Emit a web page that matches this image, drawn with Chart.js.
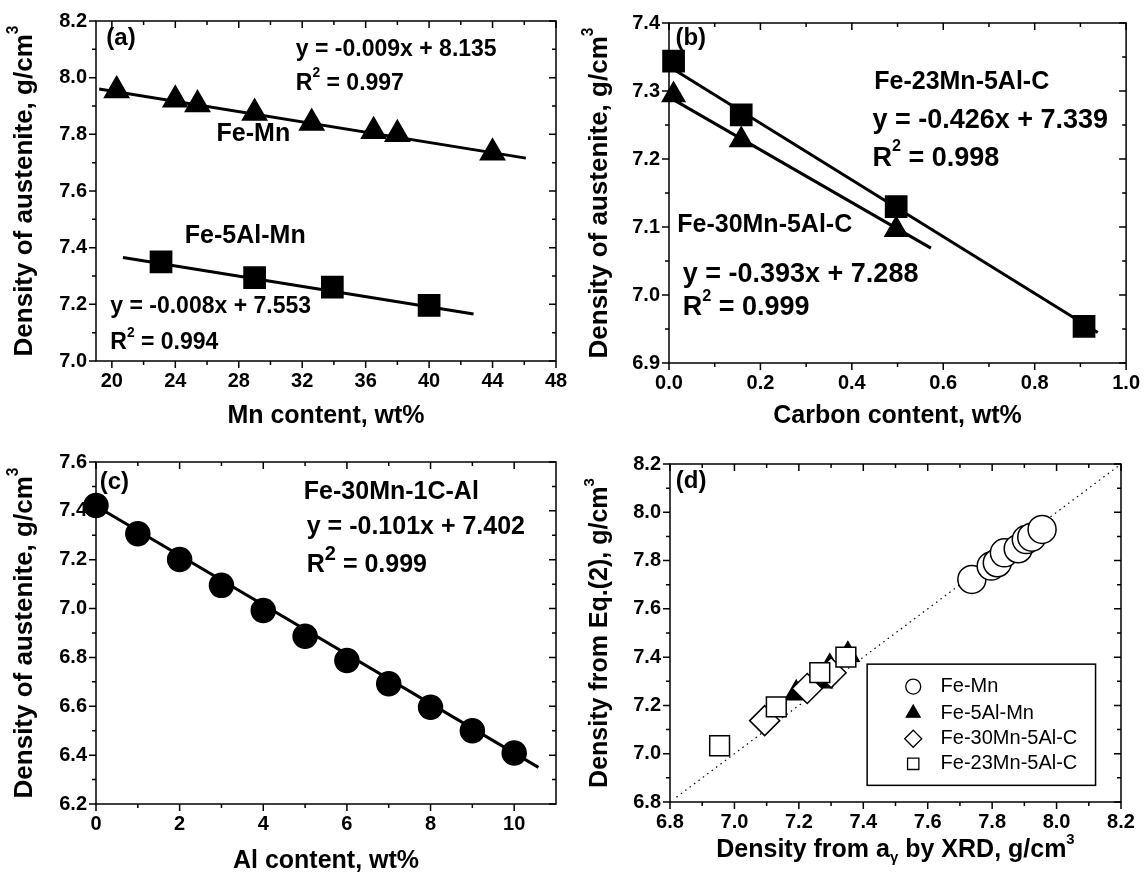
<!DOCTYPE html>
<html>
<head>
<meta charset="utf-8">
<script src="https://cdn.jsdelivr.net/npm/chart.js@4.4.1/dist/chart.umd.min.js"></script>
<style>
    body { margin: 0; background: #fff; width: 1148px; height: 874px; position: relative; overflow: hidden; }
    canvas { position: absolute; left: 0; top: 0; }
</style>
</head>
<body>
<canvas id="chartA" width="1148" height="874"></canvas>
<canvas id="chartB" width="1148" height="874"></canvas>
<canvas id="chartC" width="1148" height="874"></canvas>
<canvas id="chartD" width="1148" height="874"></canvas>
<script>
const FONT = '"Liberation Sans", Arial, Helvetica, sans-serif';

// (a) density vs Mn content
const mnFeMn = [20.3, 24.0, 25.4, 29.0, 32.6, 36.5, 38.0, 44.0];
const densFeMn = [7.955, 7.922, 7.905, 7.875, 7.840, 7.811, 7.800, 7.735];
const mnFe5Al = [23.1, 29.0, 33.9, 40.0];
const densFe5Al = [7.350, 7.294, 7.261, 7.196];
const fitFeMnX = [19.2, 46.1];
const fitFeMnY = [7.960, 7.716];
const fitFe5AlX = [20.7, 42.8];
const fitFe5AlY = [7.365, 7.166];
const aXTicks = [20, 24, 28, 32, 36, 40, 44, 48];
const aYTicks = [7.0, 7.2, 7.4, 7.6, 7.8, 8.0, 8.2];

// (b) density vs carbon content
const cFe23 = [0.01, 0.158, 0.497, 0.908];
const densFe23 = [7.344, 7.265, 7.130, 6.954];
const cFe30 = [0.01, 0.158, 0.497];
const densFe30 = [7.294, 7.228, 7.096];
const fitFe23X = [0, 0.938];
const fitFe23Y = [7.336, 6.945];
const fitFe30X = [0, 0.573];
const fitFe30Y = [7.291, 7.069];
const bXTicks = [0, 0.2, 0.4, 0.6, 0.8, 1.0];
const bYTicks = [6.9, 7.0, 7.1, 7.2, 7.3, 7.4];

// (c) density vs Al content
const alContent = [0, 1, 2, 3, 4, 5, 6, 7, 8, 9, 10];
const densAl = [7.422, 7.306, 7.201, 7.095, 6.992, 6.887, 6.787, 6.692, 6.596, 6.500, 6.409];
const fitAlX = [0, 10.58];
const fitAlY = [7.420, 6.350];
const cXTicks = [0, 2, 4, 6, 8, 10];
const cYTicks = [6.2, 6.4, 6.6, 6.8, 7.0, 7.2, 7.4, 7.6];

// (d) Eq.(2) vs XRD
const xrdFeMn = [7.737, 7.797, 7.816, 7.838, 7.881, 7.906, 7.923, 7.955];
const eqFeMn = [7.722, 7.777, 7.791, 7.832, 7.849, 7.887, 7.897, 7.929];
const xrdFe5Al = [7.192, 7.268, 7.296, 7.352];
const eqFe5Al = [7.250, 7.300, 7.360, 7.410];
const xrdFe30 = [7.094, 7.226, 7.300];
const eqFe30 = [7.137, 7.270, 7.335];
const xrdFe23 = [6.954, 7.130, 7.265, 7.346];
const eqFe23 = [7.033, 7.194, 7.336, 7.400];
const diagX = [6.82, 8.2];
const diagY = [6.82, 8.2];
const dTicks = [6.8, 7.0, 7.2, 7.4, 7.6, 7.8, 8.0, 8.2];

const Y_AXIS_W = 60;
const X_AXIS_H = 40;

function pts(xs, ys) {
    return xs.map((x, i) => ({ x: x, y: ys[i] }));
}

function drawRich(ctx, parts, x, y, size, weight, align, rotate) {
    const fontOf = s => `${weight} ${s}px ${FONT}`;
    let w = 0;
    parts.forEach(p => {
        const k = p[1] || '';
        const s = k ? size * (p[2] || 0.6) : size;
        ctx.font = fontOf(s);
        w += ctx.measureText(p[0]).width;
    });
    ctx.save();
    ctx.translate(x, y);
    if (rotate) ctx.rotate(rotate);
    ctx.fillStyle = '#000';
    ctx.textBaseline = 'middle';
    ctx.textAlign = 'left';
    let cx = align === 'center' ? -w / 2 : 0;
    parts.forEach(p => {
        const k = p[1] || '';
        const s = k ? size * (p[2] || 0.6) : size;
        ctx.font = fontOf(s);
        let dy = 0;
        if (k === 'sup') dy = -size * 0.42;
        if (k === 'sub') dy = size * 0.32;
        ctx.fillText(p[0], cx, dy);
        cx += ctx.measureText(p[0]).width;
    });
    ctx.restore();
}

function midpoints(vals) {
    const out = [];
    for (let i = 0; i < vals.length - 1; i++) out.push((vals[i] + vals[i + 1]) / 2);
    return out;
}

function makeFrame(xTicks, yTicks) {
    return {
        id: 'frame',
        beforeDatasetsDraw(chart) {
            const { ctx, chartArea: a, scales } = chart;
            const sx = scales.x, sy = scales.y;
            ctx.save();
            ctx.strokeStyle = '#000';
            ctx.lineWidth = 1.5;
            ctx.strokeRect(a.left, a.top, a.right - a.left, a.bottom - a.top);
            const xMarks = xTicks.map(v => [v, 7]).concat(midpoints(xTicks).map(v => [v, 4]));
            const yMarks = yTicks.map(v => [v, 7]).concat(midpoints(yTicks).map(v => [v, 4]));
            ctx.beginPath();
            xMarks.forEach(([v, len]) => {
                const px = sx.getPixelForValue(v);
                if (px < a.left - 0.5 || px > a.right + 0.5) return;
                ctx.moveTo(px, a.bottom); ctx.lineTo(px, a.bottom + len);
                ctx.moveTo(px, a.top); ctx.lineTo(px, a.top + len);
            });
            yMarks.forEach(([v, len]) => {
                const py = sy.getPixelForValue(v);
                if (py < a.top - 0.5 || py > a.bottom + 0.5) return;
                ctx.moveTo(a.left - len, py); ctx.lineTo(a.left, py);
                ctx.moveTo(a.right - len, py); ctx.lineTo(a.right, py);
            });
            ctx.stroke();
            ctx.restore();
        }
    };
}

function makeNotes(cfg) {
    return {
        id: 'notes',
        afterDatasetsDraw(chart) {
            const { ctx, chartArea: a, scales } = chart;
            const sx = scales.x, sy = scales.y;
            (cfg.items || []).forEach(n => {
                drawRich(ctx, n.parts, sx.getPixelForValue(n.x), sy.getPixelForValue(n.y),
                    n.size, n.weight || 'bold', 'left', 0);
            });
            const xt = cfg.xTitle, yt = cfg.yTitle;
            drawRich(ctx, xt.parts, (a.left + a.right) / 2, xt.y, xt.size, 'bold', 'center', 0);
            drawRich(ctx, yt.parts, yt.x, (a.top + a.bottom) / 2, yt.size, 'bold', 'center', -Math.PI / 2);

            const lg = cfg.legend;
            if (lg) {
                const x0 = sx.getPixelForValue(lg.x0), x1 = sx.getPixelForValue(lg.x1);
                const y0 = sy.getPixelForValue(lg.y0), y1 = sy.getPixelForValue(lg.y1);
                ctx.save();
                ctx.fillStyle = '#fff';
                ctx.fillRect(x0, y0, x1 - x0, y1 - y0);
                ctx.strokeStyle = '#000';
                ctx.lineWidth = 1.5;
                ctx.strokeRect(x0, y0, x1 - x0, y1 - y0);
                lg.order.forEach((name, i) => {
                    const ds = chart.data.datasets.find(d => d.label === name);
                    const py = sy.getPixelForValue(lg.rows[i]);
                    ctx.fillStyle = ds.backgroundColor;
                    ctx.strokeStyle = ds.borderColor;
                    ctx.lineWidth = 1.3;
                    Chart.helpers.drawPoint(ctx, {
                        pointStyle: ds.pointStyle, radius: lg.radius[i], borderWidth: 1.3, rotation: 0
                    }, sx.getPixelForValue(lg.symX), py);
                    drawRich(ctx, [[ds.label]], sx.getPixelForValue(lg.textX), py, 20, 'normal', 'left', 0);
                });
                ctx.restore();
            }
        }
    };
}

function axis(pos, min, max, ticks, fmt) {
    return {
        type: 'linear',
        position: pos,
        min: min,
        max: max,
        grid: { display: false, drawTicks: false },
        border: { display: false },
        afterBuildTicks: s => { s.ticks = ticks.map(v => ({ value: v })); },
        afterFit: s => {
            if (pos === 'left') s.width = Y_AXIS_W;
            else s.height = X_AXIS_H;
        },
        ticks: {
            autoSkip: false,
            maxRotation: 0,
            padding: pos === 'left' ? 9 : 8,
            color: '#000',
            font: { family: FONT, size: 20, weight: 'bold' },
            callback: fmt
        }
    };
}

function fitLine(xs, ys, width) {
    return {
        data: pts(xs, ys),
        showLine: true,
        borderColor: '#000',
        borderWidth: width || 3,
        pointRadius: 0,
        clip: false,
        order: 10
    };
}

function marks(xs, ys, style, radius, fill) {
    return {
        data: pts(xs, ys),
        pointStyle: style,
        pointRadius: radius,
        pointBackgroundColor: fill,
        pointBorderColor: '#000',
        pointBorderWidth: 1.5,
        backgroundColor: fill,
        borderColor: '#000',
        showLine: false,
        clip: false
    };
}

function makeChart(id, area, datasets, xAxis, yAxis, notes, xTicks, yTicks) {
    new Chart(document.getElementById(id), {
        type: 'scatter',
        data: { datasets: datasets },
        options: {
            responsive: false,
            animation: false,
            events: [],
            layout: {
                padding: {
                    left: area.L - Y_AXIS_W,
                    top: area.T,
                    right: 1148 - area.R,
                    bottom: 874 - area.B - X_AXIS_H
                }
            },
            plugins: { legend: { display: false }, tooltip: { enabled: false } },
            scales: { x: xAxis, y: yAxis }
        },
        plugins: [makeFrame(xTicks, yTicks), makeNotes(notes)]
    });
}

const f1 = v => Number(v).toFixed(1);
const f0 = v => String(Math.round(v));
const densityTitle = [['Density of austenite, g/cm'], ['3', 'sup']];

// (a)
makeChart('chartA', { L: 96, T: 18, R: 556, B: 361 }, [
    fitLine(fitFeMnX, fitFeMnY),
    fitLine(fitFe5AlX, fitFe5AlY),
    marks(mnFeMn, densFeMn, 'triangle', 14, '#000'),
    marks(mnFe5Al, densFe5Al, 'rect', 15, '#000')
], axis('bottom', 19, 48, aXTicks, f0), axis('left', 7.0, 8.2, aYTicks, f1), {
    items: [
        { x: 19.65, y: 8.138, size: 24, parts: [['(a)']] },
        { x: 31.6, y: 8.10, size: 23, parts: [['y = -0.009x + 8.135']] },
        { x: 31.6, y: 7.98, size: 23, parts: [['R'], ['2', 'sup'], [' = 0.997']] },
        { x: 26.6, y: 7.80, size: 25, parts: [['Fe-Mn']] },
        { x: 24.6, y: 7.44, size: 25, parts: [['Fe-5Al-Mn']] },
        { x: 19.9, y: 7.193, size: 23, parts: [['y = -0.008x + 7.553']] },
        { x: 19.9, y: 7.064, size: 23, parts: [['R'], ['2', 'sup'], [' = 0.994']] }
    ],
    xTitle: { y: 416, size: 25, parts: [['Mn content, wt%']] },
    yTitle: { x: 25, size: 26, parts: densityTitle }
}, aXTicks, aYTicks);

// (b)
makeChart('chartB', { L: 669, T: 23, R: 1129, B: 363 }, [
    fitLine(fitFe23X, fitFe23Y),
    fitLine(fitFe30X, fitFe30Y),
    marks(cFe23, densFe23, 'rect', 15, '#000'),
    marks(cFe30, densFe30, 'triangle', 13, '#000')
], axis('bottom', 0, 1.0, bXTicks, f1), axis('left', 6.9, 7.4, bYTicks, f1), {
    items: [
        { x: 0.014, y: 7.377, size: 24, parts: [['(b)']] },
        { x: 0.449, y: 7.313, size: 25, parts: [['Fe-23Mn-5Al-C']] },
        { x: 0.445, y: 7.257, size: 27, parts: [['y = -0.426x + 7.339']] },
        { x: 0.445, y: 7.201, size: 27, parts: [['R'], ['2', 'sup'], [' = 0.998']] },
        { x: 0.018, y: 7.103, size: 25, parts: [['Fe-30Mn-5Al-C']] },
        { x: 0.030, y: 7.030, size: 27, parts: [['y = -0.393x + 7.288']] },
        { x: 0.030, y: 6.981, size: 27, parts: [['R'], ['2', 'sup'], [' = 0.999']] }
    ],
    xTitle: { y: 416, size: 25, parts: [['Carbon content, wt%']] },
    yTitle: { x: 600, size: 26, parts: densityTitle }
}, bXTicks, bYTicks);

// (c)
makeChart('chartC', { L: 96, T: 462, R: 556, B: 804 }, [
    fitLine(fitAlX, fitAlY),
    marks(alContent, densAl, 'circle', 12, '#000')
], axis('bottom', 0, 11, cXTicks, f0), axis('left', 6.2, 7.6, cYTicks, f1), {
    items: [
        { x: 0.09, y: 7.518, size: 24, parts: [['(c)']] },
        { x: 4.97, y: 7.477, size: 25, parts: [['Fe-30Mn-1C-Al']] },
        { x: 5.04, y: 7.334, size: 25, parts: [['y = -0.101x + 7.402']] },
        { x: 5.04, y: 7.177, size: 25, parts: [['R'], ['2', 'sup', 0.8], [' = 0.999']] }
    ],
    xTitle: { y: 861, size: 25, parts: [['Al content, wt%']] },
    yTitle: { x: 25, size: 26, parts: densityTitle }
}, cXTicks, cYTicks);

// (d)
const dDatasets = [
    Object.assign(fitLine(diagX, diagY, 1.2), { borderDash: [1.5, 4] }),
    Object.assign(marks(xrdFe23, eqFe23, 'rect', 14, '#fff'), { label: 'Fe-23Mn-5Al-C', order: 1 }),
    Object.assign(marks(xrdFe30, eqFe30, 'rectRot', 15, '#fff'), { label: 'Fe-30Mn-5Al-C', order: 2 }),
    Object.assign(marks(xrdFe5Al, eqFe5Al, 'triangle', 13, '#000'), { label: 'Fe-5Al-Mn', order: 3 }),
    Object.assign(marks(xrdFeMn, eqFeMn, 'circle', 14, '#fff'), { label: 'Fe-Mn', order: 4 })
];

new Chart(document.getElementById('chartD'), {
    type: 'scatter',
    data: { datasets: dDatasets },
    options: {
        responsive: false,
        animation: false,
        events: [],
        layout: {
            padding: { left: 670 - Y_AXIS_W, top: 464, right: 1148 - 1121, bottom: 874 - 802 - X_AXIS_H }
        },
        plugins: { legend: { display: false }, tooltip: { enabled: false } },
        scales: {
            x: axis('bottom', 6.8, 8.2, dTicks, f1),
            y: axis('left', 6.8, 8.2, dTicks, f1)
        }
    },
    plugins: [makeFrame(dTicks, dTicks), makeNotes({
        items: [{ x: 6.818, y: 8.128, size: 24, parts: [['(d)']] }],
        xTitle: { y: 850, size: 25, parts: [['Density from a'], ['\u03b3', 'sub'], [' by XRD, g/cm'], ['3', 'sup']] },
        yTitle: { x: 600, size: 25, parts: [['Density from Eq.(2), g/cm'], ['3', 'sup']] },
        legend: {
            x0: 7.412, x1: 8.121, y0: 7.371, y1: 6.869, symX: 7.555, textX: 7.640,
            rows: [7.278, 7.168, 7.062, 6.958],
            order: ['Fe-Mn', 'Fe-5Al-Mn', 'Fe-30Mn-5Al-C', 'Fe-23Mn-5Al-C'],
            radius: [7.5, 8, 8.5, 8]
        }
    })]
});
</script>
</body>
</html>
